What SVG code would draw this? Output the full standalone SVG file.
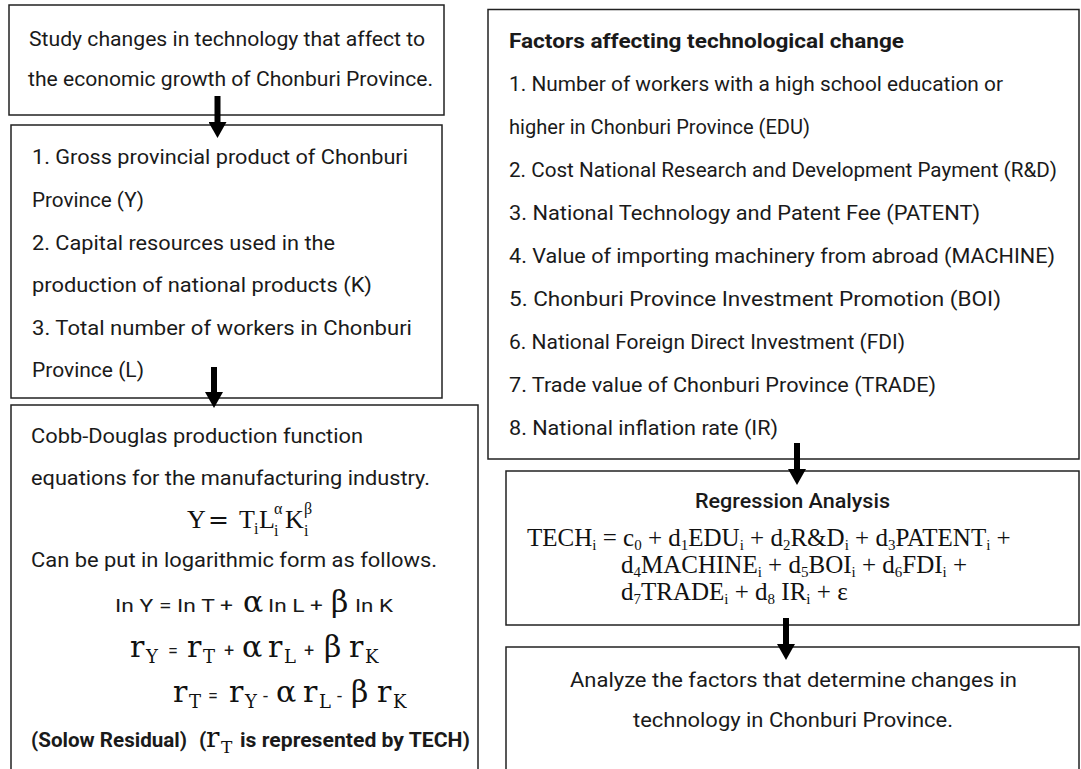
<svg xmlns="http://www.w3.org/2000/svg" width="1081" height="769" viewBox="0 0 1081 769">
<defs>
<style>
.box{fill:#fff;stroke:#222;stroke-width:1.5}
.t{font-family:Roboto,"Noto Sans","Liberation Sans",sans-serif;font-size:21px;fill:#1a1a1a}
.b{font-weight:bold}
.md{font-weight:500}
.m{font-family:"Liberation Serif","DejaVu Serif",serif;fill:#111}
.d{font-family:"DejaVu Serif","Liberation Serif",serif;fill:#111}
.r{font-size:30px}
.sb{font-size:18px}
.q{font-size:15px}
.s{font-family:Roboto,"Noto Sans","Liberation Sans",sans-serif;font-size:18px;fill:#1a1a1a}
.conn{stroke:#000;stroke-width:6;fill:none}
</style>
<marker id="ah" viewBox="0 0 16 18" refX="0" refY="9" markerWidth="16" markerHeight="18" markerUnits="userSpaceOnUse" orient="auto">
<path d="M0,0 L16,9 L0,18 z" fill="#000"/>
</marker>
</defs>
<rect x="0" y="0" width="1081" height="769" fill="#fff"/>

<g id="node-study">
<rect class="box" x="9" y="5" width="435" height="110"/>
<text class="t" x="29" y="46" textLength="396" lengthAdjust="spacingAndGlyphs">Study changes in technology that affect to</text>
<text class="t" x="28" y="86" textLength="405" lengthAdjust="spacingAndGlyphs">the economic growth of Chonburi Province.</text>
</g>

<g id="node-variables">
<rect class="box" x="11" y="125" width="431" height="273"/>
<text class="t" x="32" y="164" textLength="376" lengthAdjust="spacingAndGlyphs">1. Gross provincial product of Chonburi</text>
<text class="t" x="32" y="207" textLength="112" lengthAdjust="spacingAndGlyphs">Province (Y)</text>
<text class="t" x="32" y="250" textLength="303" lengthAdjust="spacingAndGlyphs">2. Capital resources used in the</text>
<text class="t" x="32" y="292" textLength="340" lengthAdjust="spacingAndGlyphs">production of national products (K)</text>
<text class="t" x="32" y="335" textLength="380" lengthAdjust="spacingAndGlyphs">3. Total number of workers in Chonburi</text>
<text class="t" x="32" y="377" textLength="112" lengthAdjust="spacingAndGlyphs">Province (L)</text>
</g>

<g id="node-cobb">
<rect class="box" x="11" y="405" width="467" height="400"/>
<text class="t" x="31" y="443" textLength="332" lengthAdjust="spacingAndGlyphs">Cobb-Douglas production function</text>
<text class="t" x="31" y="485" textLength="399" lengthAdjust="spacingAndGlyphs">equations for the manufacturing industry.</text>
<g class="m">
<text x="187" y="528" font-size="26">Y</text>
<text class="d" x="208" y="528" font-size="25">=</text>
<text x="239" y="528" font-size="26">T</text>
<text x="254" y="534" font-size="16">i</text>
<text x="259" y="528" font-size="26">L</text>
<text x="274" y="514" font-size="16">α</text>
<text x="274" y="536" font-size="16">i</text>
<text x="285" y="528" font-size="26">K</text>
<text x="304" y="514" font-size="16">β</text>
<text x="304" y="536" font-size="16">i</text>
</g>
<text class="t" x="31" y="567" textLength="406" lengthAdjust="spacingAndGlyphs">Can be put in logarithmic form as follows.</text>
<text class="s" x="115" y="612" textLength="118" lengthAdjust="spacingAndGlyphs">In Y = In T +</text>
<text class="d r" x="243" y="612">α</text>
<text class="s" x="268" y="612" textLength="55" lengthAdjust="spacingAndGlyphs">In L +</text>
<text class="d r" x="331" y="612">β</text>
<text class="s" x="355" y="612" textLength="38" lengthAdjust="spacingAndGlyphs">In K</text>
<g>
<text class="d r" x="130" y="657">r</text>
<text class="d sb" x="146" y="663">Y</text>
<text class="s" x="168" y="657">=</text>
<text class="d r" x="187" y="657">r</text>
<text class="d sb" x="203" y="663">T</text>
<text class="s" x="224" y="657">+</text>
<text class="d r" x="242" y="657">α</text>
<text class="d r" x="268" y="657">r</text>
<text class="d sb" x="284" y="663">L</text>
<text class="s" x="304" y="657">+</text>
<text class="d r" x="324" y="657">β</text>
<text class="d r" x="349" y="657">r</text>
<text class="d sb" x="365" y="663">K</text>
</g>
<g>
<text class="d r" x="173" y="702">r</text>
<text class="d sb" x="189" y="708">T</text>
<text class="s" x="208" y="702">=</text>
<text class="d r" x="229" y="702">r</text>
<text class="d sb" x="245" y="708">Y</text>
<text class="s" x="263" y="702">-</text>
<text class="d r" x="276" y="702">α</text>
<text class="d r" x="303" y="702">r</text>
<text class="d sb" x="319" y="708">L</text>
<text class="s" x="337" y="702">-</text>
<text class="d r" x="351" y="702">β</text>
<text class="d r" x="377" y="702">r</text>
<text class="d sb" x="393" y="708">K</text>
</g>
<text class="t b" x="31" y="747" font-size="19" textLength="156" lengthAdjust="spacingAndGlyphs">(Solow Residual)</text>
<text class="t b" x="199" y="747" font-size="19">(</text>
<text class="d" x="206" y="747" font-size="28">r</text>
<text class="d" x="221" y="753" font-size="17">T</text>
<text class="t b" x="240" y="747" font-size="19" textLength="230" lengthAdjust="spacingAndGlyphs">is represented by TECH)</text>
</g>

<g id="node-factors">
<rect class="box" x="488" y="9.5" width="591" height="449.5"/>
<text class="t b" x="509" y="48" textLength="395" lengthAdjust="spacingAndGlyphs">Factors affecting technological change</text>
<text class="t" x="509" y="91" textLength="494" lengthAdjust="spacingAndGlyphs">1. Number of workers with a high school education or</text>
<text class="t" x="509" y="134" textLength="301" lengthAdjust="spacingAndGlyphs">higher in Chonburi Province (EDU)</text>
<text class="t" x="509" y="177" textLength="548" lengthAdjust="spacingAndGlyphs">2. Cost National Research and Development Payment (R&amp;D)</text>
<text class="t" x="509" y="220" textLength="471" lengthAdjust="spacingAndGlyphs">3. National Technology and Patent Fee (PATENT)</text>
<text class="t" x="509" y="263" textLength="546" lengthAdjust="spacingAndGlyphs">4. Value of importing machinery from abroad (MACHINE)</text>
<text class="t" x="509" y="306" textLength="492" lengthAdjust="spacingAndGlyphs">5. Chonburi Province Investment Promotion (BOI)</text>
<text class="t" x="509" y="349" textLength="396" lengthAdjust="spacingAndGlyphs">6. National Foreign Direct Investment (FDI)</text>
<text class="t" x="509" y="392" textLength="427" lengthAdjust="spacingAndGlyphs">7. Trade value of Chonburi Province (TRADE)</text>
<text class="t" x="509" y="435" textLength="269" lengthAdjust="spacingAndGlyphs">8. National inflation rate (IR)</text>
</g>

<g id="node-regression">
<rect class="box" x="506" y="471" width="573" height="154"/>
<text class="t md" x="695" y="508" textLength="195" lengthAdjust="spacingAndGlyphs">Regression Analysis</text>
<text class="m" x="527" y="546" font-size="25">TECH<tspan class="q" dy="4">i</tspan><tspan dy="-4"> = c</tspan><tspan class="q" dy="4">0</tspan><tspan dy="-4"> + d</tspan><tspan class="q" dy="4">1</tspan><tspan dy="-4">EDU</tspan><tspan class="q" dy="4">i</tspan><tspan dy="-4"> + d</tspan><tspan class="q" dy="4">2</tspan><tspan dy="-4">R&amp;D</tspan><tspan class="q" dy="4">i</tspan><tspan dy="-4"> + d</tspan><tspan class="q" dy="4">3</tspan><tspan dy="-4">PATENT</tspan><tspan class="q" dy="4">i</tspan><tspan dy="-4"> +</tspan></text>
<text class="m" x="621" y="573" font-size="25">d<tspan class="q" dy="4">4</tspan><tspan dy="-4">MACHINE</tspan><tspan class="q" dy="4">i</tspan><tspan dy="-4"> + d</tspan><tspan class="q" dy="4">5</tspan><tspan dy="-4">BOI</tspan><tspan class="q" dy="4">i</tspan><tspan dy="-4"> + d</tspan><tspan class="q" dy="4">6</tspan><tspan dy="-4">FDI</tspan><tspan class="q" dy="4">i</tspan><tspan dy="-4"> +</tspan></text>
<text class="m" x="621" y="600" font-size="25">d<tspan class="q" dy="4">7</tspan><tspan dy="-4">TRADE</tspan><tspan class="q" dy="4">i</tspan><tspan dy="-4"> + d</tspan><tspan class="q" dy="4">8</tspan><tspan dy="-4"> IR</tspan><tspan class="q" dy="4">i</tspan><tspan dy="-4"> + ε</tspan></text>
</g>

<g id="node-analyze">
<rect class="box" x="506" y="647" width="573" height="200"/>
<text class="t" x="570" y="687" textLength="447" lengthAdjust="spacingAndGlyphs">Analyze the factors that determine changes in</text>
<text class="t" x="633" y="727" textLength="320" lengthAdjust="spacingAndGlyphs">technology in Chonburi Province.</text>
</g>

<g id="connectors">
<line class="conn" x1="217.5" y1="96" x2="217.5" y2="122" marker-end="url(#ah)"/>
<line class="conn" x1="214" y1="367" x2="214" y2="392" marker-end="url(#ah)"/>
<line class="conn" x1="797" y1="443" x2="797" y2="469" marker-end="url(#ah)"/>
<line class="conn" x1="786" y1="618" x2="786" y2="644" marker-end="url(#ah)"/>
</g>
</svg>
